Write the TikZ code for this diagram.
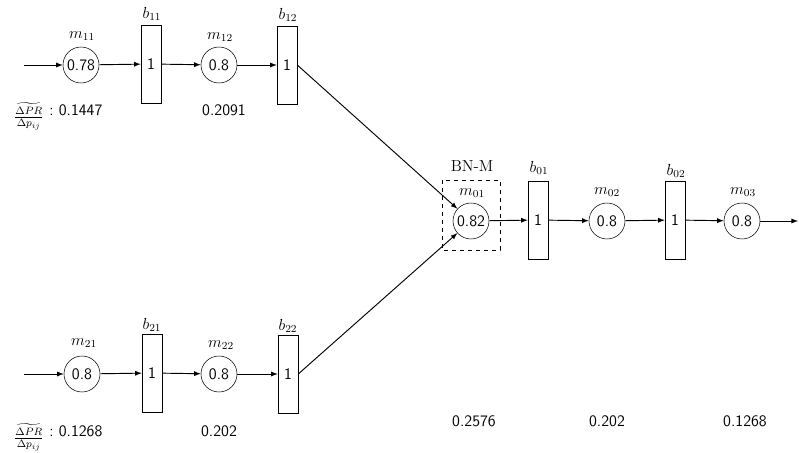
\documentclass[tikz,border=0pt]{standalone}
\usepackage{amsmath}
\usepackage{amssymb}
\usepackage{tikz}

\begin{document}
\begin{tikzpicture}[x=0.75pt,y=0.75pt,yscale=-1,xscale=1,
	mach/.style={draw, circle, minimum size=27pt, inner sep=0pt, font=\large\sffamily},
	buf/.style={draw, rectangle, minimum width=15pt, minimum height=58.5pt, inner sep=0pt, font=\large\sffamily},
	lbl/.style={inner sep=0.75pt, font=\large},
	val/.style={inner sep=0.75pt, font=\large\sffamily},
	flow/.style={-latex, line width=0.7pt}]
	\path[use as bounding box] (0,0) rectangle (799,453);
	
	%Line 1 [top]
	\coordinate (in1) at (24,65);
	\node [mach] (m11) at (81,65) {0.78};
	\node [buf] (b11) at (151,64) {1};
	\node [mach] (m12) at (219,65) {0.8};
	\node [buf] (b12) at (287,65) {1};
	% Text Node
	\node [lbl] (lm11) at (82,36) {$m_{11}$};
	\node [lbl] (lb11) at (152,14) {$b_{11}$};
	\node [lbl] (lm12) at (220,37) {$m_{12}$};
	\node [lbl] (lb12) at (288,15) {$b_{12}$};
	\node [lbl, inner sep=0pt, anchor=east] (dpr1) at (44,116) {$\widetilde{\frac{\Delta PR}{\Delta p_{ij}}}$};
	\node [val, inner sep=0pt, anchor=west] (v11) at (49,110) {:\ 0.1447};
	\node [val] (v12) at (224,110) {0.2091};
	
	%Line 2 [bottom]
	\coordinate (in2) at (24,374);
	\node [mach] (m21) at (82,374) {0.8};
	\node [buf] (b21) at (152,373) {1};
	\node [mach] (m22) at (219,374) {0.8};
	\node [buf] (b22) at (288,374) {1};
	% Text Node
	\node [lbl] (lm21) at (84,343) {$m_{21}$};
	\node [lbl] (lb21) at (152,325) {$b_{21}$};
	\node [lbl] (lm22) at (221,345) {$m_{22}$};
	\node [lbl] (lb22) at (288,326) {$b_{22}$};
	\node [lbl, inner sep=0pt, anchor=east] (dpr2) at (44,437) {$\widetilde{\frac{\Delta PR}{\Delta p_{ij}}}$};
	\node [val, inner sep=0pt, anchor=west] (v21) at (49,431) {:\ 0.1268};
	\node [val] (v22) at (219,431) {0.202};
	
	%Main line [middle]
	\node [mach] (m01) at (471,221) {0.82};
	\node [buf] (b01) at (538,220) {1};
	\node [mach] (m02) at (607,221) {0.8};
	\node [buf] (b02) at (675,220) {1};
	\node [mach] (m03) at (742,221) {0.8};
	\coordinate (out) at (798,221);
	%Shape: Dashed Rectangle
	\draw [dashed, line width=0.7pt] (442,180) rectangle (500,250);
	% Text Node
	\node [lbl] (bnm) at (472,166) {BN-M};
	\node [lbl] (lm01) at (472,193) {$m_{01}$};
	\node [lbl] (lb01) at (539,168) {$b_{01}$};
	\node [lbl] (lm02) at (607,192) {$m_{02}$};
	\node [lbl] (lb02) at (676,171) {$b_{02}$};
	\node [lbl] (lm03) at (743,192) {$m_{03}$};
	\node [val] (v01) at (474,421) {0.2576};
	\node [val] (v02) at (607,421) {0.202};
	\node [val] (v03) at (745,421) {0.1268};
	
	%Straight Lines
	\draw [flow] (in1) -- (m11);
	\draw [flow] (m11) -- (b11);
	\draw [flow] (b11) -- (m12);
	\draw [flow] (m12) -- (b12);
	\draw [flow] (b12.east) -- (m01);
	\draw [flow] (in2) -- (m21);
	\draw [flow] (m21) -- (b21);
	\draw [flow] (b21) -- (m22);
	\draw [flow] (m22) -- (b22);
	\draw [flow] (b22.east) -- (m01);
	\draw [flow] (m01) -- (b01);
	\draw [flow] (b01) -- (m02);
	\draw [flow] (m02) -- (b02);
	\draw [flow] (b02) -- (m03);
	\draw [flow] (m03) -- (out);
	
\end{tikzpicture}
\end{document}
